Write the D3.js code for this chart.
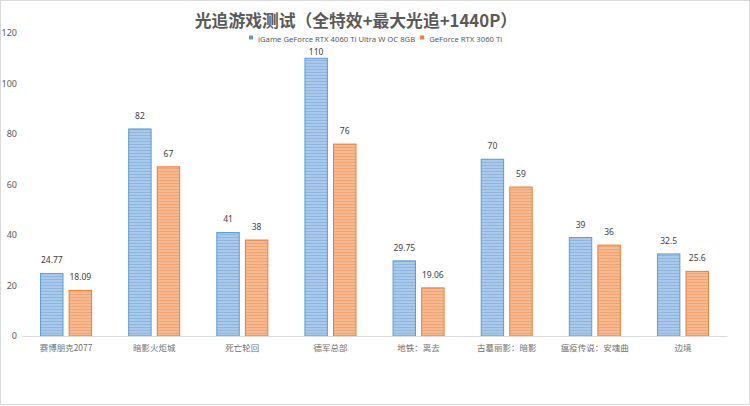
<!DOCTYPE html>
<html>
<head>
<meta charset="utf-8">
<script src="https://cdn.jsdelivr.net/npm/d3@7"></script>
<style>
  body { margin: 0; background: #fff; }
  text { font-family: "Noto Sans CJK SC", "Noto Sans", sans-serif; }
</style>
</head>
<body>
<div id="chart"></div>
<script>
// data
var games = ["赛博朋克2077", "暗影火炬城", "死亡轮回", "德军总部", "地铁：离去", "古墓丽影：暗影", "瘟疫传说：安魂曲", "边境"];
var cards = ["iGame GeForce RTX 4060 Ti Ultra W OC 8GB", "GeForce RTX 3060 Ti"];
var fps4060 = [24.77, 82, 41, 110, 29.75, 70, 39, 32.5];
var fps3060 = [18.09, 67, 38, 76, 19.06, 59, 36, 25.6];
var yTicks = [0, 20, 40, 60, 80, 100, 120];

var W = 750, H = 406;
var svg = d3.select("#chart").append("svg").attr("width", W).attr("height", H);

// frame
svg.append("rect").attr("x", 0.5).attr("y", 0.5).attr("width", W - 1).attr("height", H - 2)
    .attr("fill", "#fff").attr("stroke", "#d9d9d9");

// striped fills
var defs = svg.append("defs");
function stripes(id, base, line) {
    var p = defs.append("pattern").attr("id", id).attr("patternUnits", "userSpaceOnUse")
        .attr("width", 4).attr("height", 3);
    p.append("rect").attr("width", 4).attr("height", 3).attr("fill", base);
    p.append("rect").attr("width", 4).attr("height", 1).attr("fill", line);
}
stripes("blueStripe", "#a9c9ea", "#8fb6e1");
stripes("orangeStripe", "#f6b98f", "#f2a572");

var colors = ["#5b9bd5", "#ed7d31"];
var fills = ["url(#blueStripe)", "url(#orangeStripe)"];

var x = d3.scaleBand().domain(games).range([22, 727]);
var x1 = d3.scaleBand().domain([0, 1]).range([x.bandwidth() / 2 - 26, x.bandwidth() / 2 + 26]).paddingInner(0.18);
var y = d3.scaleLinear().domain([0, 120]).range([336, 33]);

// title
svg.append("text").attr("x", 356).attr("y", 27).attr("text-anchor", "middle")
    .attr("font-size", 16.8).attr("font-weight", "bold").attr("fill", "#595959")
    .text("光追游戏测试（全特效+最大光追+1440P）");

// legend
var leg = svg.append("g").attr("transform", "translate(249,41.5)");
var lx = 0;
cards.forEach(function(c, i) {
    leg.append("rect").attr("x", lx).attr("y", -6).attr("width", 4).attr("height", 4).attr("fill", colors[i]);
    var t = leg.append("text").attr("x", lx + 9).attr("y", 0).attr("font-size", 7.7)
        .attr("fill", "#595959").style("font-family", "\"Noto Sans\", sans-serif").text(c);
    lx = lx + 9 + t.node().getComputedTextLength() + 5;
});

// y axis labels
var yAxis = svg.append("g").attr("transform", "translate(17,0)")
    .call(d3.axisLeft(y).tickValues(yTicks).tickSize(0).tickPadding(0));
yAxis.select(".domain").remove();
yAxis.selectAll("text").attr("font-size", 9).attr("fill", "#595959")
    .style("font-family", "\"Noto Sans\", sans-serif");

// bars
var groups = svg.selectAll("g.game").data(games).enter().append("g")
    .attr("class", "game").attr("transform", function(d) { return "translate(" + x(d) + ",0)"; });

[fps4060, fps3060].forEach(function(series, s) {
    groups.append("rect")
        .attr("x", x1(s) + 0.5)
        .attr("y", function(d, i) { return y(series[i]); })
        .attr("width", x1.bandwidth() - 1)
        .attr("height", function(d, i) { return y(0) - y(series[i]); })
        .attr("fill", fills[s]).attr("stroke", colors[s]).attr("stroke-width", 1);
    // labels sit above the bar but never above the plot top
    groups.append("text")
        .attr("x", x1(s) + x1.bandwidth() / 2)
        .attr("y", function(d, i) { return Math.max(y(series[i]) - 10, 55); })
        .attr("text-anchor", "middle").attr("font-size", 8.5).attr("fill", "#404040")
        .style("font-family", "\"Noto Sans\", sans-serif")
        .text(function(d, i) { return series[i]; });
});

// x axis
var xAxis = svg.append("g").attr("transform", "translate(0,336)")
    .call(d3.axisBottom(x).tickSize(0).tickPadding(9));
xAxis.select(".domain").attr("stroke", "#d9d9d9").attr("stroke-width", 1.2);
xAxis.selectAll("text").attr("font-size", 8.5).attr("fill", "#6f6f6f")
    .style("font-family", "\"Noto Sans CJK SC\", sans-serif");
</script>
</body>
</html>
